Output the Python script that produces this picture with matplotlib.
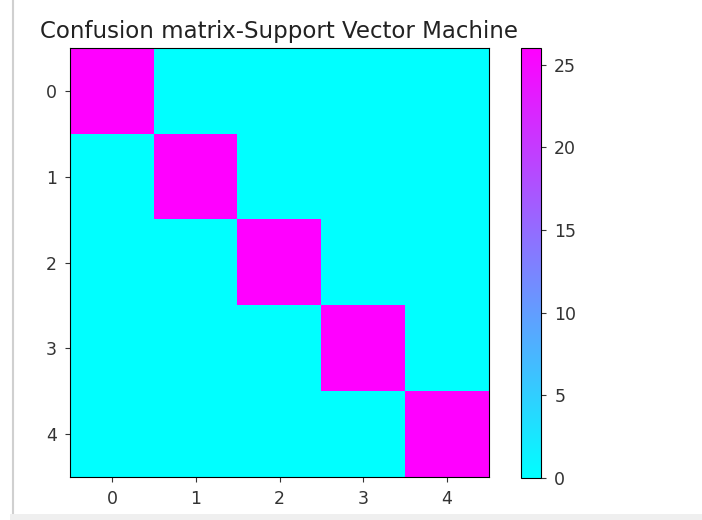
import numpy as np
import matplotlib.pyplot as plt
from matplotlib.lines import Line2D

labels = [0, 1, 2, 3, 4]
diag_counts = [26, 26, 26, 26, 26]

cm = np.diag(diag_counts)

fig = plt.figure(figsize=(7.02, 5.2), dpi=100)
ax = fig.add_axes([70 / 702, 1 - 477 / 520, 419 / 702, 429 / 520])
cax = fig.add_axes([521 / 702, 1 - 478 / 520, 20 / 702, 430 / 520])

im = ax.imshow(cm, interpolation='nearest', cmap=plt.cm.cool, aspect='auto')
ax.set_title('Confusion matrix-Support Vector Machine', fontsize=16.5, color='#222222', pad=7)
ax.set_xticks(range(len(labels)))
ax.set_yticks(range(len(labels)))
ax.set_xticklabels(labels)
ax.set_yticklabels(labels)
ax.tick_params(labelsize=12.5, colors='#333333', pad=6)

cb = fig.colorbar(im, cax=cax)
cb.set_ticks([0, 5, 10, 15, 20, 25])
cb.ax.tick_params(labelsize=12.5, colors='#333333', pad=6)

# notebook cell border
fig.add_artist(Line2D([13 / 702, 13 / 702], [0, 1], color='#d0d0d0', lw=1.5))
fig.add_artist(Line2D([13 / 702, 1], [3 / 520, 3 / 520], color='#efefef', lw=5))

fig.savefig('out.png', dpi=100)
